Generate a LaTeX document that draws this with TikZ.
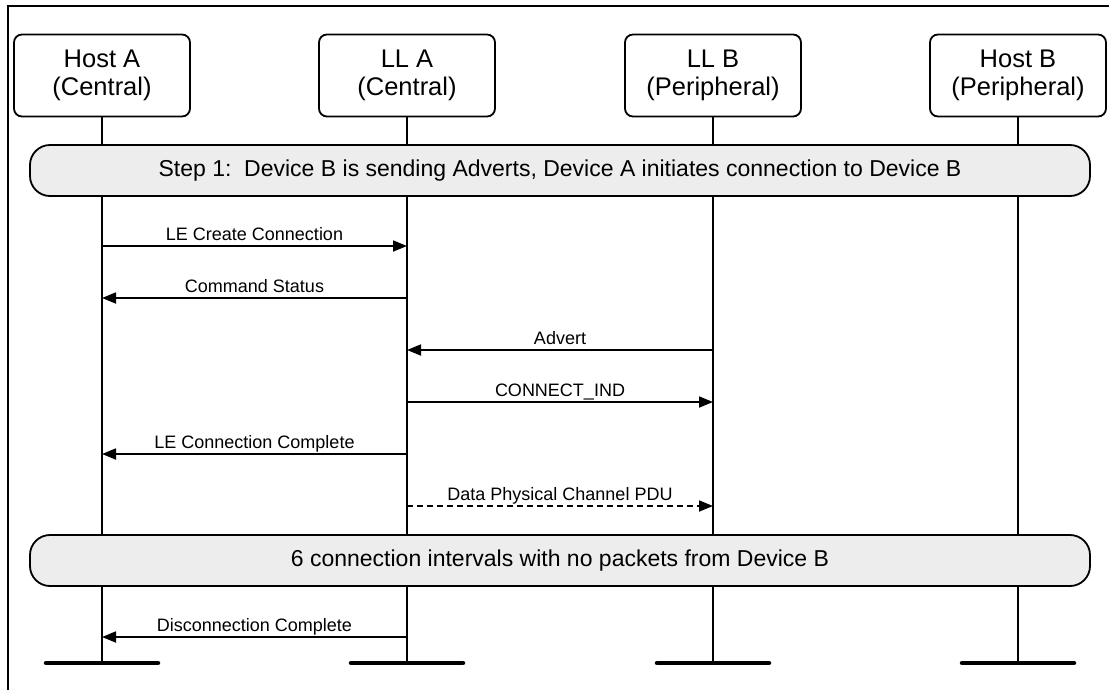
\documentclass[tikz,border=0pt]{standalone}
\usepackage{fontspec}
\setmainfont{Liberation Sans}
\usetikzlibrary{arrows.meta}
\begin{document}
\begin{tikzpicture}[x=1pt,y=-1pt,
  every node/.style={inner sep=0pt},
  lifebox/.style={draw, line width=1.8pt, rounded corners=8pt, minimum width=176pt, minimum height=82pt, align=center, font=\fontsize{25.5}{28}\selectfont, fill=white},
  stepbox/.style={draw, line width=1.8pt, rounded corners=20pt, fill=gray!14, minimum width=1060pt, minimum height=51pt, font=\fontsize{23}{26}\selectfont},
  lifeline/.style={line width=1.8pt},
  endbar/.style={line width=4.5pt, line cap=round},
  msg/.style={line width=1.8pt, -{Triangle[length=14pt,width=11pt]}},
  dmsg/.style={msg, dash pattern=on 6pt off 4pt},
  lbl/.style={font=\fontsize{18}{21}\selectfont, anchor=base}
]
\useasboundingbox (0,0) rectangle (1109,689);
\draw[line width=1.8pt] (8,700) -- (8,6) -- (1120,6);

% lifeline ends
\coordinate (eHA) at (102,663);
\coordinate (eLA) at (407,663);
\coordinate (eLB) at (713,663);
\coordinate (eHB) at (1018,663);

% header boxes
\node[lifebox] (HA) at (102,75.5) {Host A\\(Central)};
\node[lifebox] (LA) at (407,75.5) {LL A\\(Central)};
\node[lifebox] (LB) at (713,75.5) {LL B\\(Peripheral)};
\node[lifebox] (HB) at (1018,75.5) {Host B\\(Peripheral)};

% lifelines
\draw[lifeline] (HA.south) -- (eHA);
\draw[lifeline] (LA.south) -- (eLA);
\draw[lifeline] (LB.south) -- (eLB);
\draw[lifeline] (HB.south) -- (eHB);

% end bars
\draw[endbar] ([xshift=-56pt]eHA) -- ([xshift=56pt]eHA);
\draw[endbar] ([xshift=-56pt]eLA) -- ([xshift=56pt]eLA);
\draw[endbar] ([xshift=-56pt]eLB) -- ([xshift=56pt]eLB);
\draw[endbar] ([xshift=-56pt]eHB) -- ([xshift=56pt]eHB);

% step boxes
\node[stepbox] (S1) at (560,170.5) {Step 1:\ \ Device B is sending Adverts, Device A initiates connection to Device B};
\node[stepbox] (S2) at (560,560.5) {6 connection intervals with no packets from Device B};

% message levels
\coordinate (y1) at (0,246);
\coordinate (y2) at (0,298);
\coordinate (y3) at (0,350);
\coordinate (y4) at (0,402);
\coordinate (y5) at (0,454);
\coordinate (y6) at (0,506);
\coordinate (y7) at (0,637);

\draw[msg] (HA |- y1) -- (LA |- y1) node[lbl, pos=0.5, yshift=6pt] {LE Create Connection};
\draw[msg] (LA |- y2) -- (HA |- y2) node[lbl, pos=0.5, yshift=6pt] {Command Status};
\draw[msg] (LB |- y3) -- (LA |- y3) node[lbl, pos=0.5, yshift=6pt] {Advert};
\draw[msg] (LA |- y4) -- (LB |- y4) node[lbl, pos=0.5, yshift=6pt] {CONNECT\_IND};
\draw[msg] (LA |- y5) -- (HA |- y5) node[lbl, pos=0.5, yshift=6pt] {LE Connection Complete};
\draw[dmsg] (LA |- y6) -- (LB |- y6) node[lbl, pos=0.5, yshift=6pt] {Data Physical Channel PDU};
\draw[msg] (LA |- y7) -- (HA |- y7) node[lbl, pos=0.5, yshift=6pt] {Disconnection Complete};
\end{tikzpicture}
\end{document}
